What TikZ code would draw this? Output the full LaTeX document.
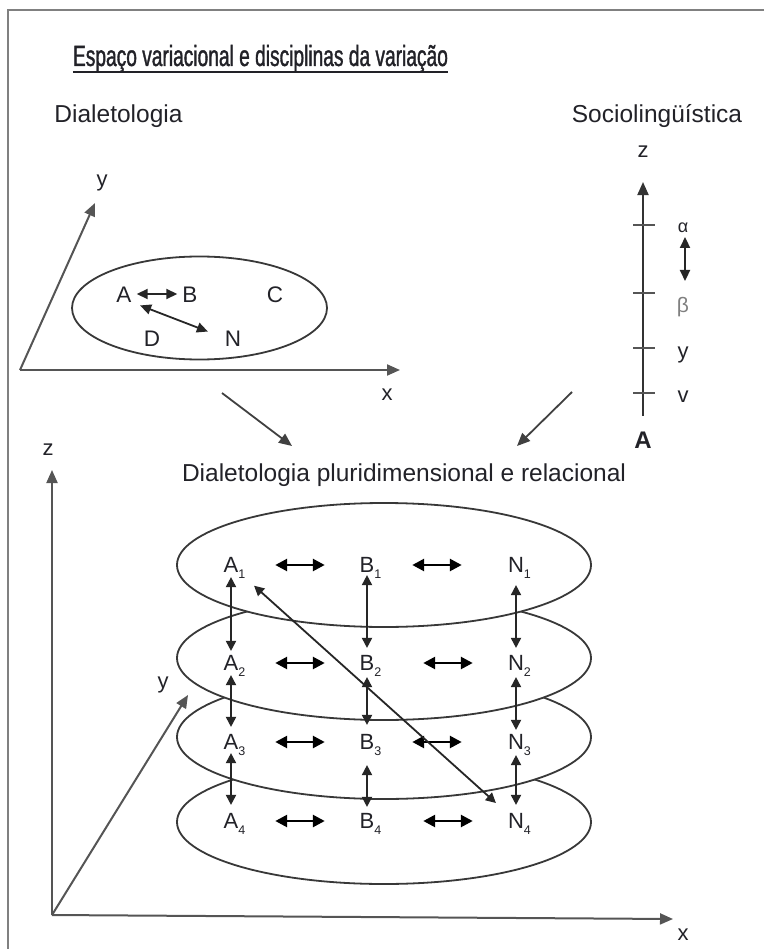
\documentclass[tikz,border=0pt]{standalone}
\usepackage{fontspec}
\setmainfont{Liberation Sans}
\newfontfamily\condfont[FakeStretch=0.654,FakeBold=1.2]{Liberation Sans}
\usetikzlibrary{arrows.meta,shapes.geometric}
\definecolor{ink}{HTML}{222228}
\definecolor{axisgray}{HTML}{555555}
\definecolor{ellgray}{HTML}{383838}
\newcommand{\subs}[1]{\rlap{\raisebox{-6pt}{\fontsize{12.5}{13}\selectfont #1}}}
\begin{document}
\begin{tikzpicture}[x=1pt,y=-1pt,
  txt/.style={text=ink, inner sep=0pt, font=\fontsize{24.5}{28}\selectfont},
  lab/.style={text=ink, inner sep=0pt, font=\fontsize{22}{24}\selectfont},
  pt2/.style={text=ink, inner sep=0pt, font=\fontsize{22.5}{24}\selectfont, text height=16pt, text depth=0pt},
  pt3/.style={text=ink, inner sep=0pt, font=\fontsize{22}{24}\selectfont, text height=15.75pt, text depth=0pt},
  axis/.style={draw=axisgray, line width=2pt, -{Triangle[length=13pt,width=11pt]}},
  marr/.style={draw=black!75, line width=1.8pt, -{Triangle[length=13pt,width=11pt]}},
  ell/.style={ellipse, draw=ellgray, line width=1.8pt, fill=white, minimum width=414pt, minimum height=124pt, inner sep=0pt},
  harr/.style={draw=black, line width=2.7pt, {Triangle[length=12pt,width=12pt]}-{Triangle[length=12pt,width=12pt]}},
  varr/.style={draw=black!85, line width=1.8pt, {Triangle[length=10pt,width=10pt]}-{Triangle[length=10pt,width=10pt]}},
  sarr/.style={draw=black!85, line width=1.8pt, {Triangle[length=11pt,width=10pt]}-{Triangle[length=11pt,width=10pt]}},
]
\useasboundingbox (0,0) rectangle (764,949);
% frame
\coordinate (fTL) at (8,10); \coordinate (fTR) at (764,10); \coordinate (fBL) at (8,949);
\draw[gray, line width=2.2pt] (fTR) -- (fTL) -- (fBL);

% titles
\node[text=ink, inner sep=0pt, anchor=base, font=\condfont\fontsize{29.3}{32}\selectfont] (title) at (260.5,66) {Espaço variacional e disciplinas da variação};
\draw[ink, line width=1.6pt] ([yshift=-6pt]title.base west) -- ([yshift=-6pt]title.base east);
\node[txt, anchor=base] (dial) at (118.5,123) {Dialetologia};
\node[txt, anchor=base] (soc) at (657,123) {Sociolingüística};
\node[txt, anchor=base] (dpr) at (404,481) {Dialetologia pluridimensional e relacional};

% Dialetologia 2D axes
\coordinate (o1) at (20,370); \coordinate (x1) at (400,370); \coordinate (y1) at (95,203);
\draw[axis] (o1) -- (x1);
\draw[axis] (o1) -- (y1);
\node[lab] (x1l) at (387,395) {x};
\node[lab] (y1l) at (102,183) {y};
\node[ellipse, draw=ellgray, line width=1.8pt, minimum width=255pt, minimum height=103pt, inner sep=0pt] (E0) at (199.5,308) {};
\node[pt2] (A) at (124,294) {A};
\node[pt2] (B) at (190,294) {B};
\node[pt2] (C) at (275,294) {C};
\node[pt2] (D) at (152,338) {D};
\node[pt2] (N) at (233,338) {N};
\draw[sarr, shorten <=5pt, shorten >=5pt] (A.east) -- (B.west);
\draw[sarr, shorten <=9pt, shorten >=18pt] (A.south east) -- (N.west);

% arrows to the lower part
\coordinate (m1s) at (222,393); \coordinate (m1e) at (292,446);
\coordinate (m2s) at (572,392); \coordinate (m2e) at (517,446);
\draw[marr] (m1s) -- (m1e);
\draw[marr] (m2s) -- (m2e);

% Sociolinguistica axis
\node[lab] (sz) at (643,152) {z};
\node[text=ink, inner sep=0pt, font=\bfseries\fontsize{24}{26}\selectfont] (sA) at (643,440) {A};
\draw[axis, draw=black!80, shorten <=16pt, shorten >=24pt] (sA.north) -- (sz.south);
\foreach \t in {225,293,348,393} \draw[axisgray, line width=1.5pt] (633,\t) -- (655,\t);
\node[text=ink, inner sep=0pt, font=\fontsize{18}{20}\selectfont] (alpha) at (683,228) {α};
\node[text=gray, inner sep=0pt, font=\fontsize{21}{24}\selectfont] (beta) at (683,307) {β};
\node[lab] (sy) at (683,355) {y};
\node[lab] (sv) at (683,397) {v};
\coordinate (sa1) at (685,237); \coordinate (sa2) at (685,281);
\draw[sarr, line width=2.2pt] (sa1) -- (sa2);

% lower axes
\coordinate (o2) at (52,915); \coordinate (z2) at (52,470); \coordinate (x2) at (673,919); \coordinate (y2) at (188,695);
\draw[axis] (o2) -- (z2);
\draw[axis] (o2) -- (x2);
\draw[axis] (o2) -- (y2);
\node[lab] (z2l) at (48,450) {z};
\node[lab] (x2l) at (683,935) {x};
\node[lab] (y2l) at (163,685) {y};

% stacked ellipses
\node[ell] (L4) at (384,822) {};
\node[ell] (L3) at (384,737) {};
\node[ell] (L2) at (384,658) {};
\node[ell] (L1) at (384,565) {};

% letters
\node[pt3] (A1) at (231,565) {A\subs{1}};
\node[pt3] (B1) at (367,565) {B\subs{1}};
\node[pt3] (N1) at (516,565) {N\subs{1}};
\node[pt3] (A2) at (231,663) {A\subs{2}};
\node[pt3] (B2) at (367,663) {B\subs{2}};
\node[pt3] (N2) at (516,663) {N\subs{2}};
\node[pt3] (A3) at (231,742) {A\subs{3}};
\node[pt3] (B3) at (367,742) {B\subs{3}};
\node[pt3] (N3) at (516,742) {N\subs{3}};
\node[pt3] (A4) at (231,821) {A\subs{4}};
\node[pt3] (B4) at (367,821) {B\subs{4}};
\node[pt3] (N4) at (516,821) {N\subs{4}};

% horizontal arrows
\foreach \r in {1,2,3,4}
  \draw[harr, shorten <=36.7pt, shorten >=34.7pt] (A\r.east) -- (B\r.west);
\draw[harr, shorten <=37.7pt, shorten >=46.1pt] (B1.east) -- (N1.west);
\draw[harr, shorten <=48.7pt, shorten >=35.1pt] (B2.east) -- (N2.west);
\draw[harr, shorten <=37.7pt, shorten >=46.1pt] (B3.east) -- (N3.west);
\draw[harr, shorten <=48.7pt, shorten >=35.1pt] (B4.east) -- (N4.west);

% vertical arrows
\draw[varr, shorten <=4pt, shorten >=4pt] (A1.south) -- (A2.north);
\draw[varr, shorten <=4pt, shorten >=7pt] (A2.south) -- (A3.north);
\draw[varr, shorten <=3pt, shorten >=8pt] (A3.south) -- (A4.north);
\draw[varr, shorten <=2pt, shorten >=7pt] (B1.south) -- (B2.north);
\draw[varr, shorten <=6pt, shorten >=9pt] (B2.south) -- (B3.north);
\draw[varr, shorten <=15pt, shorten >=6pt] (B3.south) -- (B4.north);
\draw[varr, shorten <=12pt, shorten >=7pt] (N1.south) -- (N2.north);
\draw[varr, shorten <=6pt, shorten >=4pt] (N2.south) -- (N3.north);
\draw[varr, shorten <=5pt, shorten >=8pt] (N3.south) -- (N4.north);

% diagonal
\draw[varr, shorten <=31pt, shorten >=27pt] (A1.center) -- (N4.center);
\end{tikzpicture}
\end{document}
